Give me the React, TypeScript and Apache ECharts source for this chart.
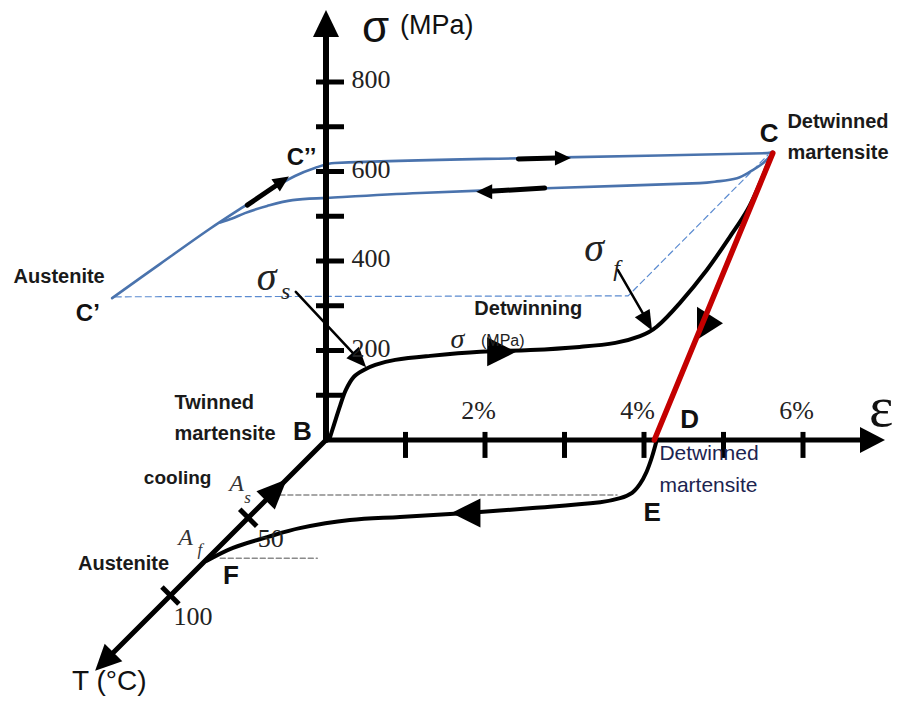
import React, { useEffect, useRef } from "react";
import * as echarts from "echarts";

// ---------- DATA (diagram plane: strain %, stress MPa) ----------
const strainTicks = [1, 2, 3, 4, 5, 6];
const strainTickLabels = [2, 4, 6];
const stressTicks = [100, 200, 300, 400, 500, 600, 700, 800];
const stressTickLabels = [200, 400, 600, 800];
const tempTicks = [50, 100];
const tempTickLabels = [50, 100];
const tempAxisEnd = 141;
const tempArrowAt = 142.5;
const coolingArrowAt = 32;

// B -> C : detwinning under load
const loadingCurve = [
  [0.04, 0], [0.1, 34], [0.18, 78], [0.25, 112], [0.35, 141], [0.47, 156], [0.62, 168],
  [0.87, 179], [1.31, 188], [1.94, 197], [2.57, 201], [3.19, 208], [3.64, 217], [3.95, 232],
  [4.16, 253], [4.45, 306], [4.79, 380], [5.08, 454], [5.3, 514], [5.46, 574], [5.58, 626], [5.62, 641],
];
// C -> D : elastic unloading
const unloadingLine = [[5.62, 641], [4.13, 0]];
// D -> E -> F : heating
const heatingCurve = [
  [4.16, 0], [4.1, -38], [4.03, -72], [3.95, -98], [3.85, -118], [3.7, -130], [3.45, -139],
  [2.6, -152], [1.77, -163], [0.93, -172], [0.3, -179], [-0.33, -197], [-0.74, -217],
  [-1.17, -241], [-1.5, -270],
];
// C' -> C'' -> C : superelastic loading (austenite)
const superLoading = [
  [-2.69, 317], [-2.09, 393], [-1.46, 472], [-1.04, 521], [-0.7, 559], [-0.39, 590],
  [-0.14, 608], [0.11, 619], [2.82, 631], [5.55, 641], [5.62, 644],
];
// C -> C' : superelastic unloading
const superUnloading = [
  [5.62, 641], [5.5, 619], [5.33, 599], [5.17, 585], [4.89, 577], [4.7, 574], [2.86, 563],
  [1.18, 552], [0.01, 541], [-0.42, 536], [-0.74, 523], [-1.02, 507], [-1.18, 495], [-1.33, 486],
];
const sigmaGuide = [[-2.65, 320], [3.8, 322], [5.56, 637]];
const asGuide = [[-0.58, -123], [3.66, -123]];
const afGuide = [[-1.33, -264], [-0.11, -264]];

// direction arrows: [strain, stress, rotation]
const curveArrows = [
  [2.21, 197, -90],
  [1.76, -163, 90],
];
const redArrow = [4.83, 261, -90];
const blueArrowShafts = [
  [[-0.99, 525], [-0.6, 572]],
  [[2.42, 628], [2.89, 630]],
  [[2.75, 563], [2.06, 556]],
];
const blueArrowHeads = [
  [-0.55, 579, -56],
  [2.98, 630, -90],
  [1.99, 555, 90],
];
const pointerShafts = [
  [[-0.38, 331], [0.34, 194]],
  [[3.67, 380], [3.99, 282]],
];
const pointerHeads = [
  [0.42, 179, -137.4],
  [4.04, 264, -150.5],
];

// text annotations: [text, strain, stress, style]
const annotations: [string, number, number, string][] = [
  ["σ", 0.63, 922, "big"],
  ["(MPa)", 1.4, 927, "unit"],
  ["ε", 6.99, 74, "eps"],
  ["T (°C)", -2.72, -539, "tAxis"],
  ["C’’", -0.3, 632, "prime"],
  ["C’", -2.99, 284, "prime"],
  ["Austenite", -3.35, 366, "phase"],
  ["C", 5.58, 684, "point"],
  ["Detwinned\nmartensite", 5.81, 678, "phaseLeft"],
  ["σ", -0.74, 364, "sym"],
  ["s", -0.5, 331, "sub"],
  ["σ", 3.38, 429, "sym"],
  ["f", 3.66, 384, "sub"],
  ["Detwinning", 2.55, 293, "phase"],
  ["σ", 1.66, 226, "symSmall"],
  ["(MPa)", 2.23, 221, "unitSmall"],
  ["Twinned\nmartensite", -1.9, 49, "phaseLeft"],
  ["B", -0.29, 18, "point"],
  ["cooling", -1.86, -85, "phaseSmall"],
  ["A", -1.12, -98, "symA"],
  ["s", -0.98, -130, "subA"],
  ["A", -1.76, -217, "symA"],
  ["f", -1.58, -246, "subA"],
  ["Austenite", -2.54, -275, "phase"],
  ["F", -1.19, -302, "point"],
  ["D", 4.58, 45, "point"],
  ["E", 4.11, -161, "point"],
  ["Detwinned\nmartensite", 4.2, -65, "phaseThin"],
];

// ---------- LAYOUT ----------
const W = 902;
const H = 702;
const X0_PX = 326;
const PX_PER_STRAIN = 79.5;
const Y0_PX = 440;
const PX_PER_MPA = 0.4475;
const X_MIN = -X0_PX / PX_PER_STRAIN;
const X_MAX = (W - X0_PX) / PX_PER_STRAIN;
const Y_MAX = Y0_PX / PX_PER_MPA;
const Y_MIN = -(H - Y0_PX) / PX_PER_MPA;
const T_PX = 2.2 / Math.SQRT2; // oblique temperature axis, 45 deg
const projT = (t: number) => [(-t * T_PX) / PX_PER_STRAIN, (-t * T_PX) / PX_PER_MPA];

const SANS = "'Liberation Sans', Arial, sans-serif";
const SERIF = "'Liberation Serif', 'Times New Roman', serif";
const BLUE = "#4a73ad";
const RED = "#c40000";

const styles: Record<string, any> = {
  big: { fontFamily: SANS, fontSize: 44, lineHeight: 36, color: "#111" },
  unit: { fontFamily: SANS, fontSize: 27, color: "#111" },
  eps: { fontFamily: SERIF, fontSize: 58, lineHeight: 44, color: "#111" },
  tAxis: { fontFamily: SANS, fontSize: 28, color: "#111" },
  prime: { fontFamily: SANS, fontSize: 24, fontWeight: "bold", color: "#111" },
  point: { fontFamily: SANS, fontSize: 26, fontWeight: "bold", color: "#111" },
  phase: { fontFamily: SANS, fontSize: 20, fontWeight: "bold", color: "#1a1a1a" },
  phaseSmall: { fontFamily: SANS, fontSize: 19, fontWeight: "bold", color: "#1a1a1a" },
  phaseLeft: { fontFamily: SANS, fontSize: 20, fontWeight: "bold", color: "#1a1a1a", align: "left", lineHeight: 31 },
  phaseThin: { fontFamily: SANS, fontSize: 21, color: "#1c2450", align: "left", lineHeight: 32 },
  sym: { fontFamily: SERIF, fontStyle: "italic", fontSize: 40, color: "#222" },
  sub: { fontFamily: SERIF, fontStyle: "italic", fontSize: 24, color: "#222" },
  symSmall: { fontFamily: SERIF, fontStyle: "italic", fontSize: 28, color: "#222" },
  unitSmall: { fontFamily: SANS, fontSize: 16, color: "#222" },
  symA: { fontFamily: SERIF, fontStyle: "italic", fontSize: 24, color: "#333" },
  subA: { fontFamily: SERIF, fontStyle: "italic", fontSize: 17, color: "#333" },
  tick: { fontFamily: SERIF, fontSize: 26, color: "#222" },
};

const line = (data: number[][], color: string, width: number, extra: any = {}) => ({
  type: "line",
  data,
  showSymbol: false,
  symbol: "none",
  silent: true,
  smooth: extra.smooth ?? 0,
  z: extra.z ?? 2,
  lineStyle: { color, width, opacity: 1, type: extra.dash ?? "solid", cap: "round", join: "round" },
});

const labelItem = (text: string, value: number[], style: any, offset: number[] = [0, 0]) => ({
  value,
  label: {
    show: true,
    formatter: text,
    position: [0, 0],
    align: "center",
    verticalAlign: "middle",
    offset,
    ...style,
  },
});

function buildOption() {
  const series: any[] = [];
  // guides
  series.push(line(sigmaGuide, "#5b8bd0", 1.2, { dash: [6, 4], z: 1 }));
  series.push(line(asGuide, "#8a8a8a", 1.5, { dash: [5, 3], z: 1 }));
  series.push(line(afGuide, "#8a8a8a", 1.5, { dash: [5, 3], z: 1 }));
  // austenite superelastic loop
  series.push(line(superLoading, BLUE, 2.6, { smooth: 0.35 }));
  series.push(line(superUnloading, BLUE, 2.6, { smooth: 0.35 }));
  // shape memory path
  series.push(line(loadingCurve, "#000", 4, { smooth: 0.35, z: 3 }));
  series.push(line(heatingCurve, "#000", 4, { smooth: 0.35, z: 3 }));
  // axes
  series.push(line([[0, 0], [0, 905]], "#000", 6, { z: 3 }));
  series.push(line([[0, 0], [6.75, 0]], "#000", 5, { z: 3 }));
  series.push(line([projT(0), projT(tempAxisEnd)], "#000", 5, { z: 3 }));
  // blue-curve direction arrows (shafts)
  blueArrowShafts.forEach((s) => series.push(line(s, "#000", 5, { z: 4 })));
  pointerShafts.forEach((s) => series.push(line(s, "#000", 2.5, { z: 4 })));
  // red unloading line
  series.push(line(unloadingLine, RED, 5.5, { z: 6 }));

  // arrow heads
  const heads: any[] = [];
  heads.push({ value: [0, 930.7], symbolRotate: 0, symbolSize: [26, 27] });
  heads.push({ value: [6.874, 0], symbolRotate: -90, symbolSize: [26, 25] });
  heads.push({ value: projT(tempArrowAt), symbolRotate: 135, symbolSize: [25, 26] });
  heads.push({ value: projT(coolingArrowAt), symbolRotate: -45, symbolSize: [26, 30] });
  curveArrows.forEach((a) => heads.push({ value: [a[0], a[1]], symbolRotate: a[2], symbolSize: [29, 29] }));
  heads.push({ value: [redArrow[0], redArrow[1]], symbolRotate: redArrow[2], symbolSize: [33, 26] });
  blueArrowHeads.forEach((a) => heads.push({ value: [a[0], a[1]], symbolRotate: a[2], symbolSize: [15, 16] }));
  pointerHeads.forEach((a) => heads.push({ value: [a[0], a[1]], symbolRotate: a[2], symbolSize: [17, 20] }));
  series.push({
    type: "scatter",
    symbol: "triangle",
    silent: true,
    z: 5,
    itemStyle: { color: "#000", opacity: 1 },
    data: heads,
  });

  // ticks
  const ticks: any[] = [];
  stressTicks.forEach((v) => ticks.push({ value: [0.05, v], symbolSize: [28, 5], symbolRotate: 0 }));
  strainTicks.forEach((v) => ticks.push({ value: [v, -11], symbolSize: [5, 26], symbolRotate: 0 }));
  tempTicks.forEach((t) => ticks.push({ value: projT(t), symbolSize: [5, 24], symbolRotate: 45 }));
  series.push({
    type: "scatter",
    symbol: "rect",
    silent: true,
    z: 4,
    itemStyle: { color: "#000", opacity: 1 },
    data: ticks,
  });

  // texts
  const texts: any[] = [];
  stressTickLabels.forEach((v) =>
    texts.push(labelItem(String(v), [0, v], { ...styles.tick, align: "left" }, [26, -2]))
  );
  strainTickLabels.forEach((v) => texts.push(labelItem(v + "%", [v, 0], styles.tick, [-6, -29])));
  tempTickLabels.forEach((t) => texts.push(labelItem(String(t), projT(t), styles.tick, [23, 21])));
  annotations.forEach(([txt, e, s, k]) => texts.push(labelItem(txt, [e, s], styles[k])));
  series.push({
    type: "scatter",
    symbol: "circle",
    symbolSize: 1,
    silent: true,
    z: 7,
    itemStyle: { color: "rgba(0,0,0,0)", opacity: 1 },
    data: texts,
  });

  return {
    animation: false,
    backgroundColor: "#fff",
    grid: { left: 0, right: 0, top: 0, bottom: 0, containLabel: false },
    xAxis: { type: "value", min: X_MIN, max: X_MAX, show: false },
    yAxis: { type: "value", min: Y_MIN, max: Y_MAX, show: false },
    series,
  };
}

export default function App() {
  const ref = useRef<HTMLDivElement>(null);
  useEffect(() => {
    if (!ref.current) return;
    const chart = echarts.init(ref.current, null, { renderer: "svg" });
    chart.setOption(buildOption() as any);
    return () => chart.dispose();
  }, []);
  return (
    <div
      ref={ref}
      style={{ position: "absolute", left: 0, top: 0, width: W, height: H, background: "#fff" }}
    />
  );
}
